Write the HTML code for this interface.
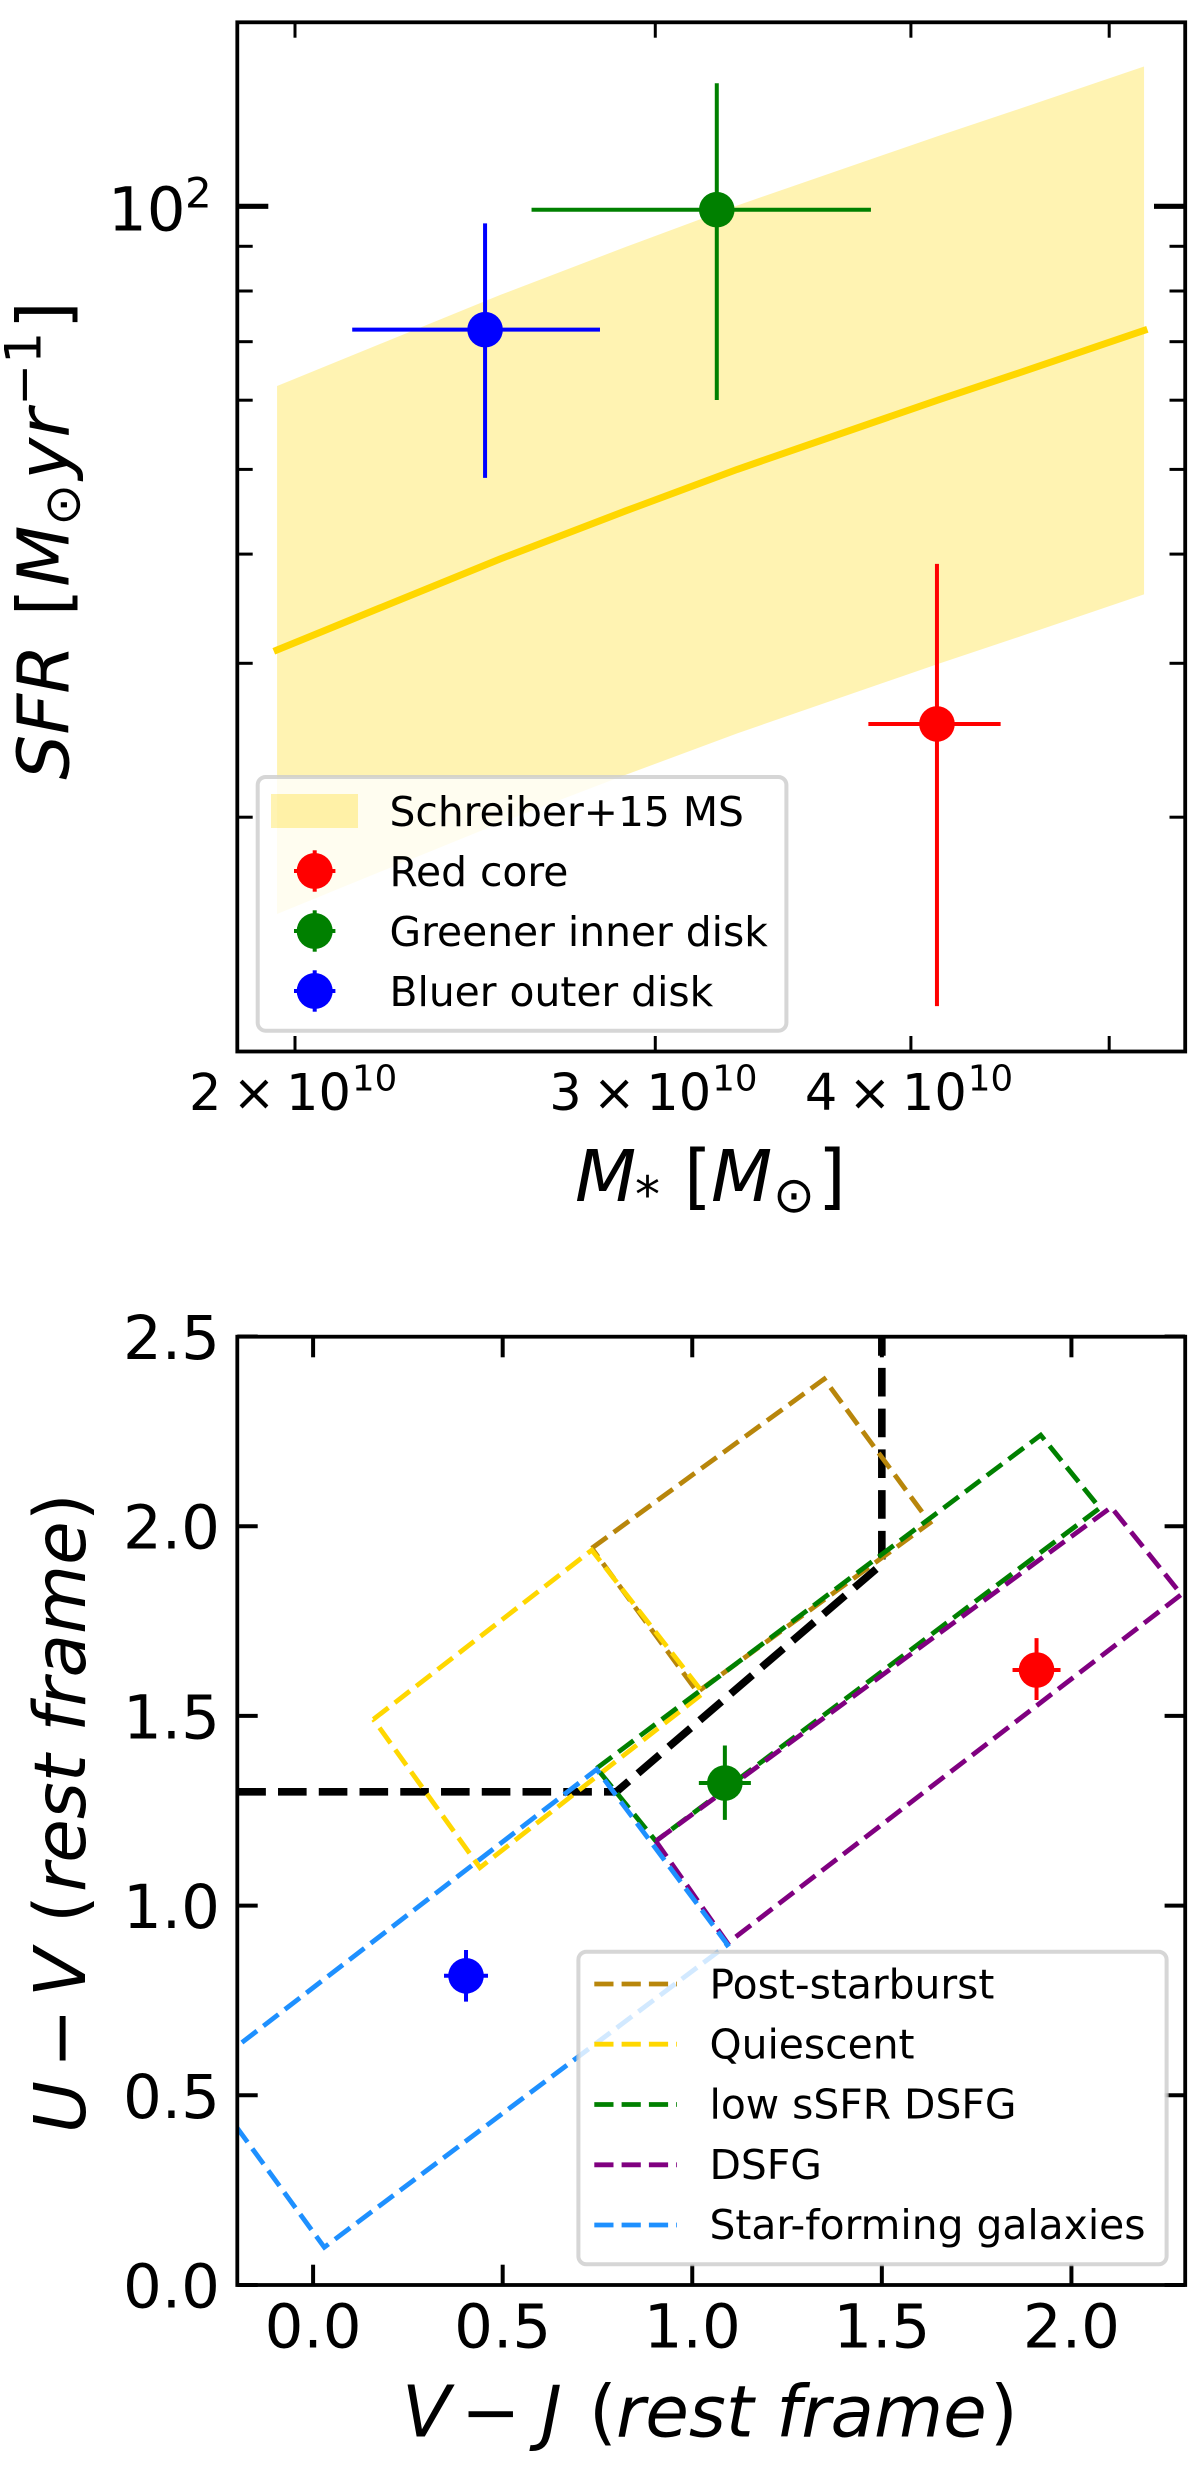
<!DOCTYPE html>
<html lang="en">
<head>
<meta charset="utf-8">
<title>SFR and UVJ diagrams</title>
<style>
html,body{margin:0;padding:0;background:#fff;}
svg{display:block;}
text{font-family:"DejaVu Sans","Liberation Sans",sans-serif;fill:#000;}
.i{font-style:italic;}
.lab{font-size:61px;}
.xl{font-size:51px;}
.xs{font-size:35.5px;}
.leg{font-size:40.8px;}
.ttl{font-size:71px;}
.sub{font-size:50px;}
</style>
</head>
<body>
<svg id="fig" xmlns="http://www.w3.org/2000/svg" width="1200" height="2466" viewBox="0 0 1200 2466">
  <defs>
    <clipPath id="clip-bottom"><rect x="237.3" y="1336.7" width="947.9" height="948.3"/></clipPath>
  </defs>
  <rect x="0" y="0" width="1200" height="2466" fill="#fff"/>

  <g id="top-data"></g>
  <g id="top-axes"></g>

  <g>
    <text class="ttl i" x="575" y="1201">M</text>
    <text class="sub" x="647.5" y="1212" text-anchor="middle">*</text>
    <text class="ttl" x="684" y="1201">[</text>
    <text class="ttl i" x="711" y="1201">M</text>
    <text class="sub" x="773" y="1212">⊙</text>
    <text class="ttl" x="818" y="1201">]</text>
  </g>
  <g transform="translate(68.3,776.7) rotate(-90)">
    <text class="ttl i" x="-3" y="0">SFR</text>
    <text class="ttl" x="160.5" y="0">[</text>
    <text class="ttl i" x="190" y="0">M</text>
    <text class="sub" x="251" y="11">⊙</text>
    <text class="ttl i" x="297" y="0">yr</text>
    <text class="sub" x="371" y="-28">−1</text>
    <text class="ttl" x="447.7" y="0">]</text>
  </g>

  <g id="top-legend">
    <rect x="257.7" y="777" width="528.7" height="253.7" rx="8" ry="8" fill="#fff" fill-opacity="0.8" stroke="#ccc" stroke-opacity="0.8" stroke-width="4"/>
    <rect x="271" y="794" width="87" height="34" fill="#FFD700" fill-opacity="0.3"/>
    <text class="leg" x="389.5" y="826">Schreiber+15 MS</text>
    <text class="leg" x="389.5" y="886">Red core</text>
    <text class="leg" x="389.5" y="946">Greener inner disk</text>
    <text class="leg" x="389.5" y="1006">Bluer outer disk</text>
  </g>

  <g id="bot-data"></g>
  <g id="bot-axes"></g>

  <g>
    <text class="ttl i" x="402" y="2436.7">V</text>
    <text class="ttl" x="461" y="2436.7">−</text>
    <text class="ttl i" x="541" y="2436.7">J</text>
    <text class="ttl" x="589" y="2436.7">(</text>
    <text class="ttl i" x="616" y="2436.7">rest frame</text>
    <text class="ttl" x="990" y="2436.7">)</text>
  </g>
  <g transform="translate(85,2130) rotate(-90)">
    <text class="ttl i" x="-3" y="0">U</text>
    <text class="ttl" x="62" y="0">−</text>
    <text class="ttl i" x="133" y="0">V</text>
    <text class="ttl" x="207" y="0">(</text>
    <text class="ttl i" x="238" y="0">rest frame</text>
    <text class="ttl" x="609" y="0">)</text>
  </g>

  <g id="bot-legend">
    <rect x="578.4" y="1951.7" width="588.2" height="312.6" rx="8" ry="8" fill="#fff" fill-opacity="0.8" stroke="#ccc" stroke-opacity="0.8" stroke-width="4"/>
    <text class="leg" x="709.5" y="1998.3">Post-starburst</text>
    <text class="leg" x="709.5" y="2058.5">Quiescent</text>
    <text class="leg" x="709.5" y="2118.7">low sSFR DSFG</text>
    <text class="leg" x="709.5" y="2178.9">DSFG</text>
    <text class="leg" x="709.5" y="2239">Star-forming galaxies</text>
  </g>
</svg>
<script>
// ---------- SFR vs stellar mass (masses in units of 1e10 Msun) ----------
const topXTicks = [2, 3, 4, 5];
const topXTickLabels = ['2', '3', '4', ''];
const topYMajorTicks = [100];
const topYMinorTicks = [20, 30, 40, 50, 60, 70, 80, 90];
const msMass = [1.96, 2.2, 2.52, 2.9, 3.29, 4.13, 4.6, 5.2];
const msSfr = [31.07, 34.7, 39.5, 44.8, 50.0, 60.1, 65.4, 72.1];
const msScatterDex = [0.302];
const regionColors = ['#FF0000', '#008000', '#0000FF'];
const regionMass = [4.119, 3.215, 2.477];
const regionMassLow = [3.813, 2.61, 2.133];
const regionMassHigh = [4.425, 3.824, 2.819];
const regionSfr = [25.57, 99.1, 72.25];
const regionSfrLow = [12.16, 60.03, 48.9];
const regionSfrHigh = [38.98, 138.3, 95.6];

// ---------- UVJ diagram ----------
const uvjXTicks = [0.0, 0.5, 1.0, 1.5, 2.0];
const uvjYTicks = [0.0, 0.5, 1.0, 1.5, 2.0, 2.5];
const uvjTickLabels = ['0.0', '0.5', '1.0', '1.5', '2.0', '2.5'];
const divideVJ = [-0.2, 0.8, 1.5, 1.5];
const divideUV = [1.3, 1.3, 1.9, 2.5];
const postVJ = [0.735, 1.348, 1.627, 1.0135, 0.735];
const postUV = [1.942, 2.388, 2.009, 1.563, 1.942];
const quiescentVJ = [0.159, 0.735, 1.029, 0.44, 0.159];
const quiescentUV = [1.491, 1.937, 1.56, 1.10, 1.491];
const lowDsfgVJ = [0.748, 1.919, 2.075, 0.904, 0.748];
const lowDsfgUV = [1.362, 2.240, 2.048, 1.170, 1.362];
const dsfgVJ = [0.904, 2.105, 2.29, 1.093, 0.904];
const dsfgUV = [1.170, 2.05, 1.82, 0.901, 1.170];
const sfgVJ = [-0.301, 0.748, 1.093, 0.0295, -0.301];
const sfgUV = [0.552, 1.359, 0.897, 0.0994, 0.552];
const uvjVJ = [1.908, 1.086, 0.4033];
const uvjVJErr = [0.0633, 0.0686, 0.058];
const uvjUV = [1.621, 1.323, 0.815];
const uvjUVLow = [1.542, 1.226, 0.747];
const uvjUVHigh = [1.705, 1.422, 0.883];

// axis functions
function xTop(m) { return 295 + 2046 * Math.log10(m / 2); }
function yTop(s) { return 206.3 + 874 * (2 - Math.log10(s)); }
function xBot(v) { return 313.1 + 379.16 * v; }
function yBot(v) { return 2285 - 379.4 * v; }

const NS = 'http://www.w3.org/2000/svg';
function make(tag, attrs, parent) {
  const e = document.createElementNS(NS, tag);
  for (const k in attrs) e.setAttribute(k, attrs[k]);
  parent.appendChild(e);
  return e;
}
function pathFrom(xs, ys, fx, fy) {
  return xs.map(function (x, i) { return (i ? 'L' : 'M') + fx(x).toFixed(2) + ' ' + fy(ys[i]).toFixed(2); }).join(' ');
}

const topData = document.getElementById('top-data');
const topAxes = document.getElementById('top-axes');
const botData = document.getElementById('bot-data');
const botAxes = document.getElementById('bot-axes');
const topLegend = document.getElementById('top-legend');
const botLegend = document.getElementById('bot-legend');

// main-sequence band
const upper = msSfr.map(function (s) { return s * Math.pow(10, msScatterDex[0]); });
const lower = msSfr.map(function (s) { return s / Math.pow(10, msScatterDex[0]); });
const bandX = msMass.concat(msMass.slice().reverse());
const bandY = upper.concat(lower.slice().reverse());
const band = make('path', { d: pathFrom(bandX, bandY, xTop, yTop) + ' Z', fill: '#FFD700', 'fill-opacity': 0.3 }, topData);


const msLine = make('path', { d: pathFrom(msMass, msSfr, xTop, yTop), fill: 'none', stroke: '#FFD700', 'stroke-width': 7, 'stroke-linecap': 'square', 'stroke-linejoin': 'round' }, topData);



// SFR-mass error bars and points
regionMass.forEach(function (m, i) {
  const g = make('g', {}, topData);
  
  
  make('line', { x1: xTop(regionMassLow[i]), x2: xTop(regionMassHigh[i]), y1: yTop(regionSfr[i]), y2: yTop(regionSfr[i]), stroke: regionColors[i], 'stroke-width': 4 }, g);
  make('line', { x1: xTop(m), x2: xTop(m), y1: yTop(regionSfrLow[i]), y2: yTop(regionSfrHigh[i]), stroke: regionColors[i], 'stroke-width': 4 }, g);
  make('circle', { cx: xTop(m), cy: yTop(regionSfr[i]), r: 17.8, fill: regionColors[i] }, g);
});

// SFR-mass ticks
topXTicks.forEach(function (t, i) {
  const x = xTop(t);
  const a = make('line', { x1: x, x2: x, y1: 22.3, y2: 37.7, stroke: '#000', 'stroke-width': 3 }, topAxes);
  
  
  const b = make('line', { x1: x, x2: x, y1: 1051.5, y2: 1036, stroke: '#000', 'stroke-width': 3 }, topAxes);
  
  
  if (topXTickLabels[i]) {
    const g = make('g', {}, topAxes);
    
    
    const y0 = 1110;
    const m = make('text', { class: 'xl', x: x - 106, y: y0 }, g);
    m.textContent = topXTickLabels[i];
    const c = make('text', { class: 'xl', x: x - 41, y: y0, 'text-anchor': 'middle' }, g);
    c.textContent = '×';
    const d = make('text', { class: 'xl', x: x - 9, y: y0 }, g);
    d.textContent = '10';
    const s = make('text', { class: 'xs', x: x + 57, y: 1090.7 }, g);
    s.textContent = '10';
  }
});
topYMinorTicks.forEach(function (t) {
  const y = yTop(t);
  const a = make('line', { x1: 237.3, x2: 252.7, y1: y, y2: y, stroke: '#000', 'stroke-width': 3 }, topAxes);
  
  
  const b = make('line', { x1: 1185.2, x2: 1169.5, y1: y, y2: y, stroke: '#000', 'stroke-width': 3 }, topAxes);
  
  
});
topYMajorTicks.forEach(function (t) {
  const y = yTop(t);
  const a = make('line', { x1: 237.3, x2: 268.3, y1: y, y2: y, stroke: '#000', 'stroke-width': 5.2 }, topAxes);
  
  
  const b = make('line', { x1: 1185.2, x2: 1154, y1: y, y2: y, stroke: '#000', 'stroke-width': 5.2 }, topAxes);
  
  
  const g = make('g', {}, topAxes);
  
  
  const base = make('text', { class: 'lab', x: 108, y: y + 24 }, g);
  base.textContent = '10';
  const exp = make('text', { style: 'font-size:42px', x: 185, y: y + 1 }, g);
  exp.textContent = '2';
});
const topFrame = make('rect', { x: 237.3, y: 22.3, width: 947.9, height: 1029.2, fill: 'none', stroke: '#000', 'stroke-width': 3.8 }, topAxes);



// SFR-mass legend markers
const topLegendRows = [871, 931, 991];
regionColors.forEach(function (c, i) {
  const g = make('g', {}, topLegend);
  
  
  const cx = 314.7, cy = topLegendRows[i];
  make('line', { x1: cx - 20.7, x2: cx + 20.7, y1: cy, y2: cy, stroke: c, 'stroke-width': 4 }, g);
  make('line', { x1: cx, x2: cx, y1: cy - 20.7, y2: cy + 20.7, stroke: c, 'stroke-width': 4 }, g);
  make('circle', { cx: cx, cy: cy, r: 18, fill: c }, g);
});

// UVJ selection boxes
const clipGroup = make('g', { 'clip-path': 'url(#clip-bottom)' }, botData);


const divide = make('path', { d: pathFrom(divideVJ, divideUV, xBot, yBot), fill: 'none', stroke: '#000', 'stroke-width': 7.6, 'stroke-dasharray': '28.6 12.15' }, clipGroup);


function boxAttrs(xs, ys, c) {
  return { d: pathFrom(xs, ys, xBot, yBot), fill: 'none', stroke: c, 'stroke-width': 4.8, 'stroke-dasharray': '19 8.1' };
}
const boxPost = make('path', boxAttrs(postVJ, postUV, '#B8860B'), clipGroup);


const boxQ = make('path', boxAttrs(quiescentVJ, quiescentUV, '#FFD700'), clipGroup);


const boxLow = make('path', boxAttrs(lowDsfgVJ, lowDsfgUV, '#008000'), clipGroup);


const boxD = make('path', boxAttrs(dsfgVJ, dsfgUV, '#800080'), clipGroup);


const boxS = make('path', boxAttrs(sfgVJ, sfgUV, '#1E90FF'), clipGroup);



// UVJ points
uvjVJ.forEach(function (v, i) {
  const g = make('g', {}, botData);
  
  
  make('line', { x1: xBot(v - uvjVJErr[i]), x2: xBot(v + uvjVJErr[i]), y1: yBot(uvjUV[i]), y2: yBot(uvjUV[i]), stroke: regionColors[i], 'stroke-width': 4 }, g);
  make('line', { x1: xBot(v), x2: xBot(v), y1: yBot(uvjUVLow[i]), y2: yBot(uvjUVHigh[i]), stroke: regionColors[i], 'stroke-width': 4 }, g);
  make('circle', { cx: xBot(v), cy: yBot(uvjUV[i]), r: 17.8, fill: regionColors[i] }, g);
});

// UVJ ticks
uvjXTicks.forEach(function (t, i) {
  const x = xBot(t);
  const a = make('line', { x1: x, x2: x, y1: 1336.7, y2: 1357.3, stroke: '#000', 'stroke-width': 4 }, botAxes);
  
  
  const b = make('line', { x1: x, x2: x, y1: 2285, y2: 2264.7, stroke: '#000', 'stroke-width': 4 }, botAxes);
  
  
  const l = make('text', { class: 'lab', x: x, y: 2347.5, 'text-anchor': 'middle' }, botAxes);
  
  
  l.textContent = uvjTickLabels[i];
});
uvjYTicks.forEach(function (t, i) {
  const y = yBot(t);
  const a = make('line', { x1: 237.3, x2: 257.7, y1: y, y2: y, stroke: '#000', 'stroke-width': 4 }, botAxes);
  
  
  const b = make('line', { x1: 1185.2, x2: 1164.6, y1: y, y2: y, stroke: '#000', 'stroke-width': 4 }, botAxes);
  
  
  const l = make('text', { class: 'lab', x: 220, y: y + 22.5, 'text-anchor': 'end' }, botAxes);
  
  
  l.textContent = uvjTickLabels[i];
});
const botFrame = make('rect', { x: 237.3, y: 1336.7, width: 947.9, height: 948.3, fill: 'none', stroke: '#000', 'stroke-width': 3.8 }, botAxes);



// UVJ legend lines
const legendLineColors = ['#B8860B', '#FFD700', '#008000', '#800080', '#1E90FF'];
const botLegendRows = [1984, 2044.2, 2104.5, 2164.8, 2225];
legendLineColors.forEach(function (c, i) {
  const s = make('line', { x1: 594.3, x2: 677, y1: botLegendRows[i], y2: botLegendRows[i], stroke: c, 'stroke-width': 4.8, 'stroke-dasharray': '19.2 8.1' }, botLegend);
  
  
});
</script>
</body>
</html>
